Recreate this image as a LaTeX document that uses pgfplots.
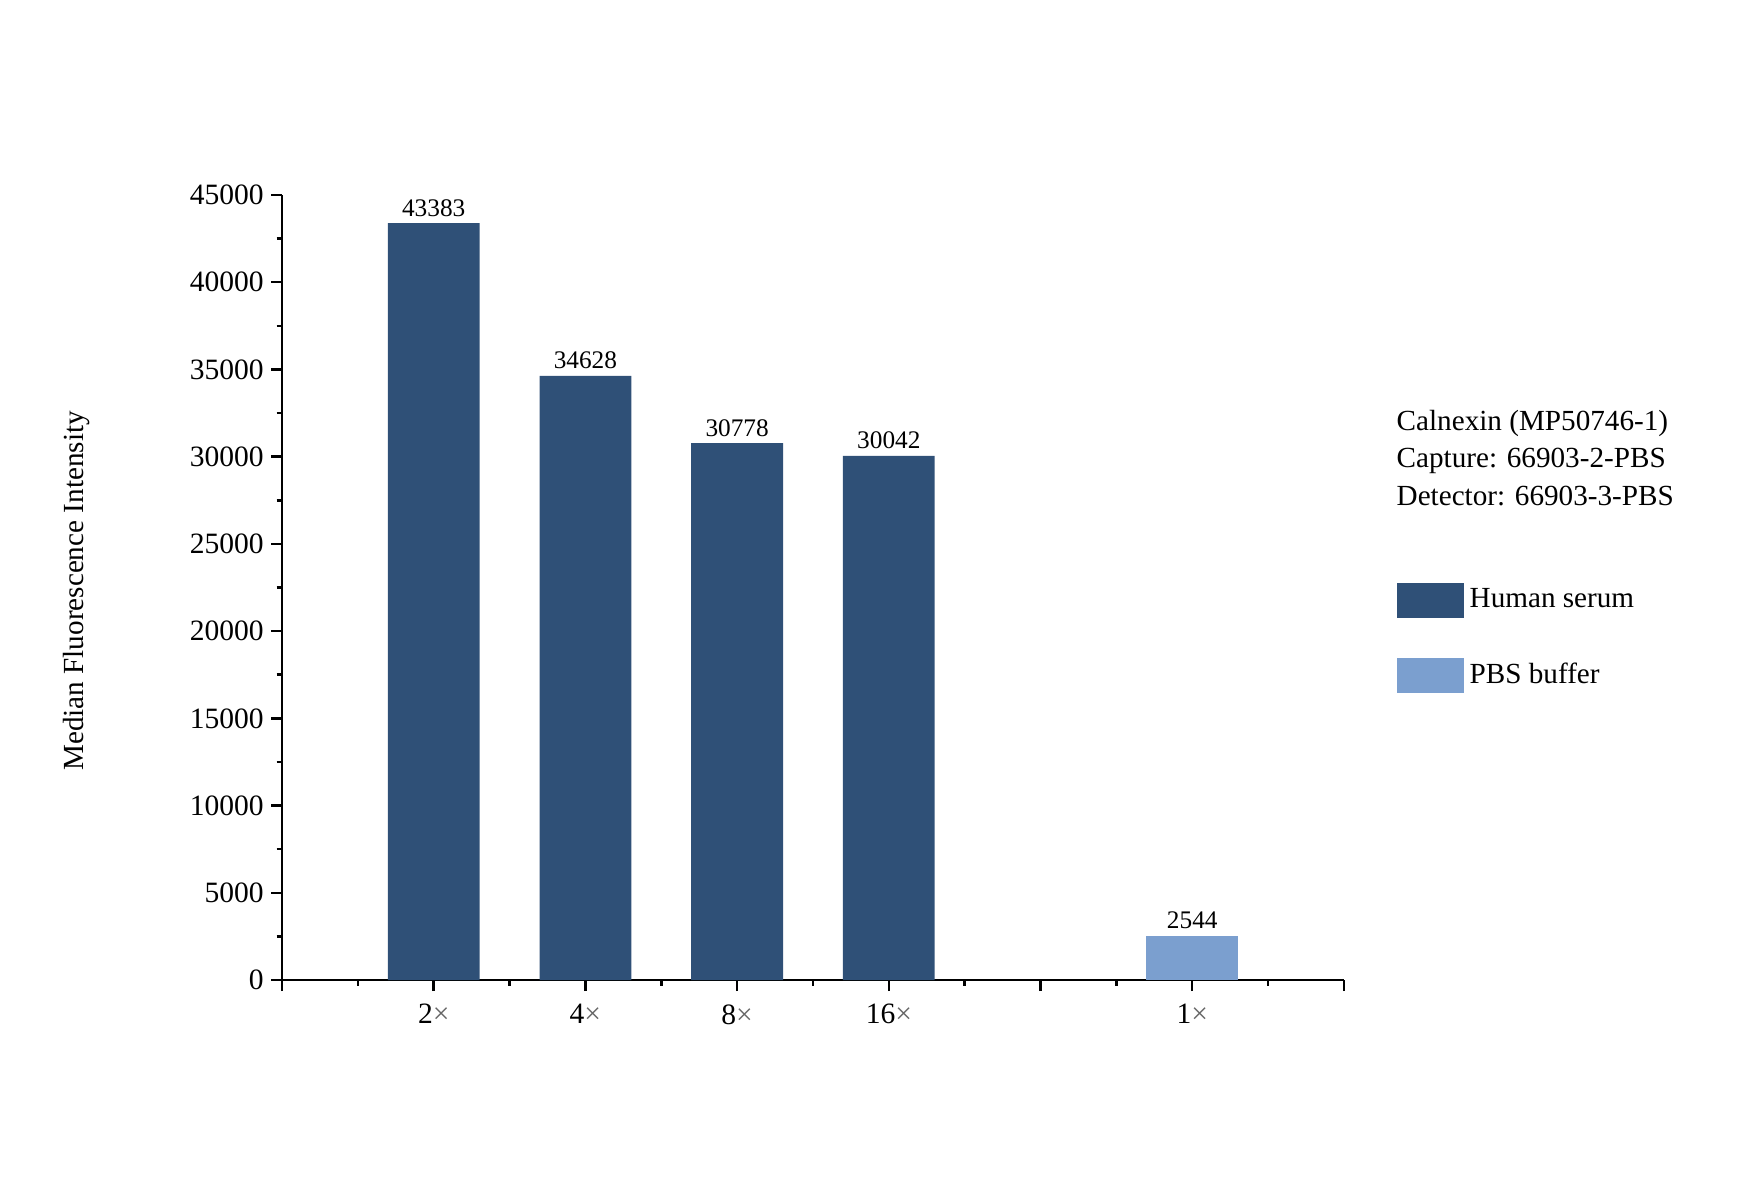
\documentclass[border=0pt]{standalone}
\usepackage{fontspec}
\setmainfont{Liberation Serif}
\usepackage{pgfplots}
\pgfplotsset{compat=1.18}

\definecolor{serum}{RGB}{47,80,119}
\definecolor{pbs}{RGB}{123,159,207}

\begin{document}
\begin{tikzpicture}
\useasboundingbox (0,0) rectangle (174mm,119.1mm);
\begin{axis}[
    at={(28.2mm,21.1mm)}, anchor=south west,
    scale only axis,
    width=106.2mm, height=78.5mm,
    ybar, bar width=0.605, bar shift=0pt,
    xmin=0, xmax=7, ymin=0, ymax=45000,
    axis lines*=left,
    axis line style={line width=0.7pt},
    tick style={black, line width=0.7pt},
    tick align=outside,
    major tick length=1.1mm, minor tick length=0.55mm,
    xtick={0,1,2,3,4,5,6,7},
    xticklabels={,2\textcolor{black!60}{×},4\textcolor{black!60}{×},8\textcolor{black!60}{×},16\textcolor{black!60}{×},,1\textcolor{black!60}{×},},
    minor x tick num=1,
    ytick={0,5000,...,45000},
    minor y tick num=1,
    scaled y ticks=false,
    /pgf/number format/assume math mode=true,
    /pgf/number format/1000 sep={},
    ticklabel style={font=\fontsize{8.4}{9}\selectfont},
    xticklabel style={yshift=-0.1mm},
    yticklabel style={xshift=0.5mm},
    nodes near coords,
    every node near coord/.append style={font=\fontsize{7.2}{8}\selectfont, inner sep=0.6mm},
    clip=false,
    legend style={at={(axis description cs:1.049,0.507)}, anchor=north west,
        draw=none, fill=none, inner sep=0pt, row sep=3.8mm,
        font=\fontsize{8.3}{9}\selectfont,
        nodes={inner sep=0.6mm}},
    legend cell align=left,
]
\addplot[fill=serum, draw=none,
    legend image code/.code={\fill[serum] (0mm,-1.75mm) rectangle (6.7mm,1.75mm);}]
    coordinates {(1,43383) (2,34628) (3,30778) (4,30042)};
\addlegendentry{Human serum}
\addplot[fill=pbs, draw=none,
    legend image code/.code={\fill[pbs] (0mm,-1.75mm) rectangle (6.7mm,1.75mm);}]
    coordinates {(6,2544)};
\addlegendentry{PBS buffer}
\end{axis}
\node[rotate=90, font=\fontsize{8.3}{9}\selectfont] at (7.7mm,60.0mm) {Median Fluorescence Intensity};
\begin{scope}[every node/.style={anchor=base west, inner sep=0pt, font=\fontsize{8.3}{9}\selectfont}]
\node at (139.6mm,76.1mm) {Calnexin (MP50746-1)};
\node at (139.6mm,72.4mm) {Capture: 66903-2-PBS};
\node at (139.6mm,68.6mm) {Detector: 66903-3-PBS};
\end{scope}
\end{tikzpicture}
\end{document}
